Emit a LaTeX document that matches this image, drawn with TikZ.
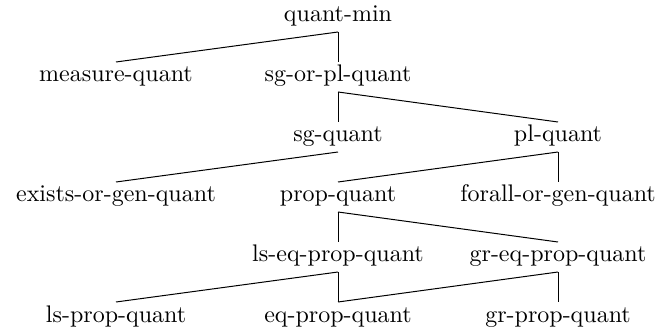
\documentclass[tikz,border=0pt]{standalone}
\usetikzlibrary{calc}
\begin{document}
\begin{tikzpicture}[x=0.4pt,y=-0.4pt,
  lbl/.style={anchor=base,inner sep=0pt,font=\fontsize{9.6}{11}\selectfont},
  edge/.style={draw,line width=0.4pt}]
\useasboundingbox (0,0) rectangle (657,331);
\node[lbl] (qm)  at (338,22) {quant-min};
\node[lbl] (mq)  at (116,82) {measure-quant};
\node[lbl] (sop) at (338,82) {sg-or-pl-quant};
\node[lbl] (sg)  at (338,142) {sg-quant};
\node[lbl] (pl)  at (558,142) {pl-quant};
\node[lbl] (eog) at (116,202) {exists-or-gen-quant};
\node[lbl] (pq)  at (338,202) {prop-quant};
\node[lbl] (fog) at (558,202) {forall-or-gen-quant};
\node[lbl] (lse) at (338,262) {ls-eq-prop-quant};
\node[lbl] (gre) at (558,262) {gr-eq-prop-quant};
\node[lbl] (ls)  at (116,322) {ls-prop-quant};
\node[lbl] (eq)  at (338,322) {eq-prop-quant};
\node[lbl] (gr)  at (558,322) {gr-prop-quant};
\foreach \p/\c in {qm/mq,qm/sop,sop/sg,sop/pl,sg/eog,pl/pq,pl/fog,pq/lse,pq/gre,lse/ls,lse/eq,gre/eq,gre/gr}
  \draw[edge] ([yshift=-4pt]\p.base) -- ([yshift=8pt]\c.base);
\end{tikzpicture}
\end{document}
